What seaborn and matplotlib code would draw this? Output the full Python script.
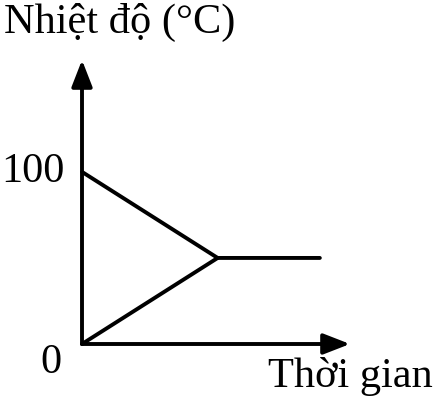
import matplotlib
matplotlib.use("Agg")
import matplotlib.pyplot as plt
import seaborn as sns
import pandas as pd

# Data (time in arbitrary units, temperature in °C)
time_hot = [0, 81, 142]
temp_hot = [100, 50, 50]
time_cold = [0, 81]
temp_cold = [0, 50]
y_ticks = [0, 100]
y_label = "Nhiệt độ (°C)"
x_label = "Thời gian"

sns.set_theme(style="white")
plt.rcParams["font.family"] = ["Liberation Serif", "DejaVu Serif"]

W, H = 437, 404
fig = plt.figure(figsize=(W / 100, H / 100), dpi=100)
ox, oy = 82, 344      # origin in pixels (from top-left)
ax_w, ax_h = 268, 284
ax = fig.add_axes([ox / W, (H - oy) / H, ax_w / W, ax_h / H])
ax.set_xlim(0, 160)
ax.set_ylim(0, 165)
ax.patch.set_alpha(0)
for s in ax.spines.values():
    s.set_visible(False)
ax.set_xticks([])
ax.set_yticks([])

lw = 2.8
df_hot = pd.DataFrame({"t": time_hot, "T": temp_hot})
df_cold = pd.DataFrame({"t": time_cold, "T": temp_cold})
sns.lineplot(data=df_hot, x="t", y="T", ax=ax, color="black", lw=lw,
             sort=False, estimator=None, clip_on=False)
sns.lineplot(data=df_cold, x="t", y="T", ax=ax, color="black", lw=lw,
             sort=False, estimator=None, clip_on=False)
ax.set_xlabel("")
ax.set_ylabel("")

arrow = dict(arrowstyle="-|>,head_length=0.9,head_width=0.35", color="black",
             lw=lw, mutation_scale=18, shrinkA=0, shrinkB=0)
ax.annotate("", xy=(1, 0), xytext=(0, 0), xycoords="axes fraction",
            textcoords="axes fraction", arrowprops=arrow, annotation_clip=False)
ax.annotate("", xy=(0, 1), xytext=(0, 0), xycoords="axes fraction",
            textcoords="axes fraction", arrowprops=arrow, annotation_clip=False)

fs = 30.5
fig.text(4 / W, 1 - 22 / H, y_label, fontsize=fs, ha="left", va="center", color="black")
ax.text(-17 / ax_w * 160, y_ticks[1], str(y_ticks[1]), fontsize=fs, ha="right",
        va="center", color="black")
ax.text(-20 / ax_w * 160, -19 / ax_h * 165, str(y_ticks[0]), fontsize=fs, ha="right",
        va="center", color="black")
fig.text(433 / W, 1 - 376 / H, x_label, fontsize=fs, ha="right", va="center", color="black")

fig.savefig("out.png", dpi=100)
